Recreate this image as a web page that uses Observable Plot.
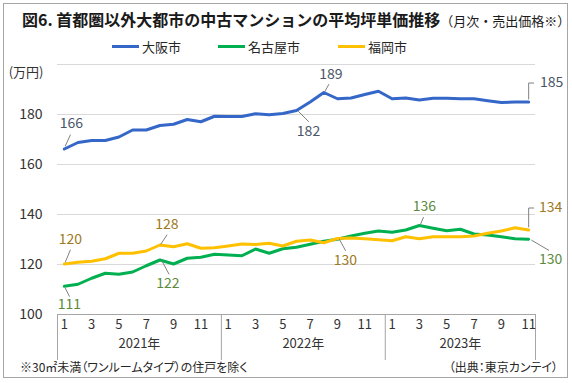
<!DOCTYPE html>
<html><head><meta charset="utf-8">
<script src="https://cdn.jsdelivr.net/npm/d3@7"></script>
<script src="https://cdn.jsdelivr.net/npm/@observablehq/plot@0.6"></script>
<style>
body{margin:0;background:#fff;font-family:"Noto Sans CJK JP","Noto Sans",sans-serif;}
#wrap{position:relative;width:572px;height:383px;overflow:hidden;background:#fff;}
#frame{position:absolute;left:3px;top:3px;width:563px;height:373px;border:1px solid #a6a6a6;pointer-events:none;}
#title{position:absolute;left:22px;top:7px;font-size:16px;font-weight:bold;color:#1a1a1a;white-space:nowrap;line-height:24px;}
#title span{font-weight:normal;font-size:13px;}
#legend{position:absolute;top:36px;left:0;width:572px;height:20px;font-size:13px;color:#262626;}
.li{position:absolute;top:0;display:flex;align-items:center;height:20px;}
.sw{display:inline-block;width:27px;height:3px;margin-right:3px;}
#plot{position:absolute;left:0;top:56px;}
#foot{position:absolute;left:20px;top:358px;font-size:12px;color:#262626;white-space:nowrap;font-feature-settings:"palt";}
#src{position:absolute;right:14px;top:358px;font-size:12px;color:#262626;white-space:nowrap;font-feature-settings:"palt";}
</style></head>
<body>
<div id="wrap">
  <div id="title">図6. 首都圏以外大都市の中古マンションの平均坪単価推移<span>（月次・売出価格※）</span></div>
  <div id="legend"></div>
  <div id="plot"></div>
  <div id="foot">※30㎡未満（ワンルームタイプ）の住戸を除く</div>
  <div id="src">（出典：東京カンテイ）</div>
  <div id="frame"></div>
</div>
<script>
// ---- data ----
const years = [2021, 2022, 2023];
const monthsPerYear = [12, 12, 11];
const monthTicks = [1, 3, 5, 7, 9, 11];
const yTicks = [100, 120, 140, 160, 180];
const gridTicks = [120, 140, 160, 180, 200];
const yUnit = "(万円)";
const seriesNames = ["大阪市", "名古屋市", "福岡市"];
const osaka = [166.2, 168.8, 169.6, 169.6, 171.0, 173.8, 173.8, 175.6, 176.1, 178.0, 177.1, 179.3,
               179.2, 179.2, 180.3, 179.9, 180.4, 181.6, 185.0, 188.8, 186.3, 186.6, 188.0, 189.3,
               186.3, 186.6, 185.8, 186.5, 186.5, 186.3, 186.3, 185.5, 184.8, 185.0, 185.0];
const nagoya = [111.3, 112.1, 114.5, 116.5, 116.1, 117.0, 119.5, 121.8, 120.2, 122.5, 122.9, 124.1,
                123.8, 123.5, 126.2, 124.5, 126.3, 126.9, 128.1, 129.3, 130.1, 131.4, 132.5, 133.4,
                132.9, 133.8, 135.6, 134.5, 133.5, 134.1, 132.2, 131.8, 131.1, 130.3, 130.1];
const fukuoka = [120.2, 120.9, 121.3, 122.3, 124.5, 124.5, 125.4, 127.8, 127.1, 128.3, 126.5, 126.7,
                 127.4, 128.2, 128.0, 128.5, 127.4, 129.3, 129.8, 128.7, 130.4, 130.6, 130.3, 129.9,
                 129.5, 131.1, 130.3, 131.1, 131.1, 131.1, 131.4, 132.5, 133.4, 134.7, 133.8];

// ---- styles ----
const lineColors = ["#3567c8", "#00b050", "#ffc000"];
const labelColors = {"大阪市": "#4a5568", "名古屋市": "#5b8a3c", "福岡市": "#9c7a22"};

// ---- build table ----
const months = [];
years.forEach((y, k) => { for (let m = 1; m <= monthsPerYear[k]; m++) months.push({year: y, month: m}); });
const seriesValues = {"大阪市": osaka, "名古屋市": nagoya, "福岡市": fukuoka};
const rows = [];
seriesNames.forEach(s => seriesValues[s].forEach((v, i) => rows.push({series: s, i, v})));
const n = months.length;
const monthLabels = months.map((d, i) => ({...d, i})).filter(d => monthTicks.includes(d.month));
let start = 0;
const yearGroups = years.map((y, k) => { const g = {year: y, from: start, to: start + monthsPerYear[k] - 1}; start += monthsPerYear[k]; return g; });
const separators = [-0.5, ...yearGroups.map(g => g.to + 0.5)];

// legend
const leg = document.getElementById("legend");
const legX = [112, 218, 338];
seriesNames.forEach((s, k) => {
  const el = document.createElement("div");
  el.className = "li"; el.style.left = legX[k] + "px";
  el.innerHTML = `<span class="sw" style="background:${lineColors[k]}"></span>${s}`;
  leg.appendChild(el);
});

// ---- layout ----
const W = 572, H = 306, mL = 57, mR = 37, mT = 8, mB = 48;
const plotW = W - mL - mR, plotH = H - mT - mB;
const xPerPx = n / plotW, yPerPx = 100 / plotH;

// callouts: series, index, leader path (px offsets), text offset
const callouts = [
  ["大阪市", 0, [[1, -3], [6, -14]], 7, -25],
  ["大阪市", 17, [[2, 1], [12, 11]], 12, 21],
  ["大阪市", 19, [[1, -1], [5, -8]], 7, -18],
  ["大阪市", 34, [[0, -3], [0, -19], [5, -19]], 23, -19],
  ["福岡市", 0, [[1, -2], [6, -14]], 6, -24],
  ["福岡市", 7, [[1, -1], [7, -10]], 7, -20],
  ["名古屋市", 0, [[1, 2], [5, 10]], 5, 18],
  ["名古屋市", 7, [[2, 1], [9, 14]], 8, 24],
  ["福岡市", 20, [[2, 1], [8, 12]], 8, 22],
  ["名古屋市", 26, [[1, -1], [4, -8]], 5, -19],
  ["福岡市", 34, [[0, -3], [0, -22], [5, -22]], 22, -22],
  ["名古屋市", 34, [[3, 1], [20, 11]], 22, 20]
];
const calloutMarks = [];
callouts.forEach(([s, idx, path, tdx, tdy]) => {
  const v = seriesValues[s][idx];
  const pts = path.map(([px, py]) => ({x: idx + px * xPerPx, y: v - py * yPerPx}));
  calloutMarks.push(Plot.line(pts, {x: "x", y: "y", stroke: "#808080", strokeWidth: 1}));
  calloutMarks.push(Plot.text([{i: idx, v}], {x: "i", y: "v", text: d => d3.format(".0f")(d.v),
    dx: tdx, dy: tdy, fill: labelColors[s], fontSize: 14, textAnchor: "middle"}));
});

const chart = Plot.plot({
  width: W, height: H, marginLeft: mL, marginRight: mR, marginTop: mT, marginBottom: mB,
  style: {fontFamily: "'Noto Sans CJK JP', sans-serif", background: "transparent", overflow: "visible"},
  x: {domain: [-0.5, n - 0.5], axis: null},
  y: {domain: [100, 200], axis: null},
  color: {domain: seriesNames, range: lineColors},
  marks: [
    Plot.ruleY(gridTicks, {stroke: "#d9d9d9", strokeWidth: 1}),
    Plot.ruleY([100], {stroke: "#a6a6a6", strokeWidth: 1}),
    Plot.text(yTicks, {y: d => d, frameAnchor: "left", dx: -15, textAnchor: "end", fontSize: 14, fill: "#333"}),
    Plot.text([yUnit], {frameAnchor: "top-left", dx: -14, dy: 3, textAnchor: "end", fontSize: 13, fill: "#333"}),
    Plot.ruleX(separators, {x: d => d, insetTop: plotH, insetBottom: -46, stroke: "#a6a6a6", strokeWidth: 1}),
    Plot.text(monthLabels, {x: "i", frameAnchor: "bottom", dy: 14, text: d => String(d.month), fontSize: 13, fill: "#333"}),
    Plot.text(yearGroups, {x: d => (d.from + d.to) / 2, frameAnchor: "bottom", dy: 33, text: d => d.year + "年", fontSize: 13, fill: "#333"}),
    Plot.line(rows, {x: "i", y: "v", z: "series", stroke: "series", strokeWidth: 3, strokeLinejoin: "round"}),
    ...calloutMarks
  ]
});
document.getElementById("plot").appendChild(chart);
</script>
</body></html>
